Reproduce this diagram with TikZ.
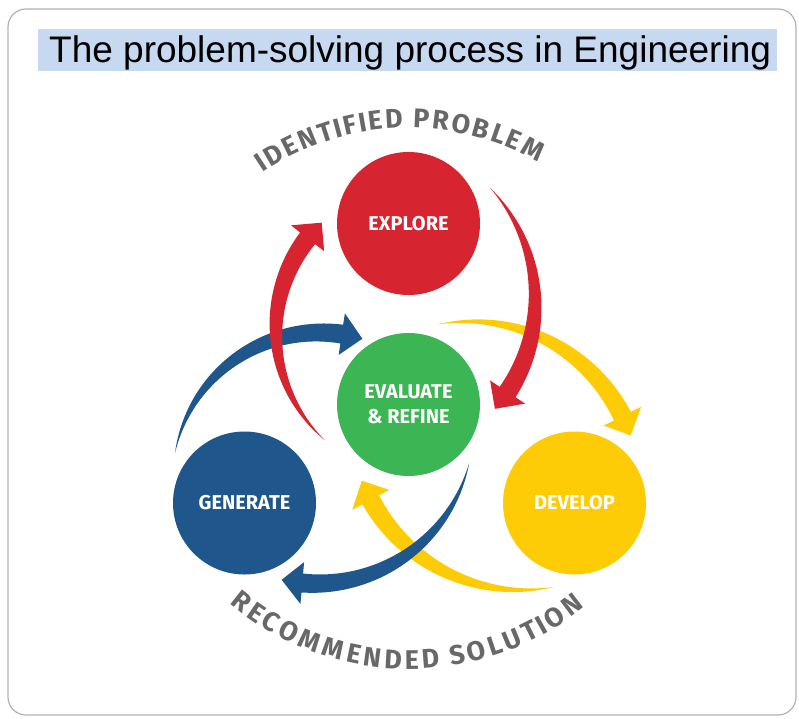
\documentclass[tikz,border=0pt]{standalone}
\usepackage{fontspec}
\setmainfont{Liberation Sans}
\newfontfamily\labfont{Fira Sans}
\usetikzlibrary{decorations.text}

\definecolor{redA}{RGB}{214,37,49}
\definecolor{greenA}{RGB}{60,182,84}
\definecolor{blueA}{RGB}{31,86,139}
\definecolor{yellowA}{RGB}{254,204,6}
\definecolor{arcgray}{RGB}{104,104,104}
\definecolor{titlefill}{RGB}{198,217,240}
\definecolor{framegray}{RGB}{178,178,178}

\newcommand\labelfont{\labfont\bfseries\fontsize{20}{25}\selectfont}
\newcommand\ringfont{\labfont\bfseries\fontsize{27}{30}\selectfont}

% tapered curved arrow running along a circle:
% centre x, centre y, radius, tail angle, angle of the head base, tip angle, colour
\newcommand\swoosh[7]{%
  \fill[#7] plot[domain=0:1, samples=50, variable=\q]
      ({#1+(#3+4.75*(\q+sin(90*\q)))*cos((#4)+\q*((#5)-(#4)))},
       {#2+(#3+4.75*(\q+sin(90*\q)))*sin((#4)+\q*((#5)-(#4)))})
    -- ({#1+(#3+21)*cos(#5)},{#2+(#3+21)*sin(#5)})
    -- ({#1+#3*cos(#6)},{#2+#3*sin(#6)})
    -- ({#1+(#3-21)*cos(#5)},{#2+(#3-21)*sin(#5)})
    -- plot[domain=1:0, samples=50, variable=\q]
      ({#1+(#3-4.75*(\q+sin(90*\q)))*cos((#4)+\q*((#5)-(#4)))},
       {#2+(#3-4.75*(\q+sin(90*\q)))*sin((#4)+\q*((#5)-(#4)))})
    -- cycle;}

\tikzset{
  stage/.style={circle, inner sep=0pt, minimum size=143pt, text=white,
    font=\labelfont, align=center},
  ringtext/.style={decorate, decoration={text effects along path,
    text={#1}, text effects/.cd, text along path, fit text to path,
    characters={text=arcgray, font=\ringfont}}},
}

\begin{document}
\begin{tikzpicture}[x=1pt, y=-1pt]
\useasboundingbox (0,0) rectangle (799,718);

% frame
\draw[framegray, line width=1.2pt, rounded corners=18pt] (8,9) rectangle (796,715);

% title
\fill[titlefill] (38,29) rectangle (777,71);
\node[anchor=base west, inner sep=0pt, font=\fontsize{37}{40}\selectfont]
  (title) at (49,62) {The problem-solving process in Engineering};

% curved arrows (yellow below blue, red on top)
\swoosh{469}{493}{171.6}{259.3}{333.4}{340.4}{yellowA}
\swoosh{522}{418}{172}{79.2}{151.6}{158.6}{yellowA}
\swoosh{320}{480}{147.5}{190.5}{278.5}{286.7}{blueA}
\swoosh{316}{426}{157.6}{13.5}{95}{102.6}{blueA}
\swoosh{425}{330}{149}{132.3}{218}{226.1}{redA}
\swoosh{370}{301}{165}{-43.3}{33.5}{40.8}{redA}

% stages
\node[stage, fill=redA]    (explore)  at (408.5,223.5) {EXPLORE};
\node[stage, fill=greenA]  (evaluate) at (408.5,404.5) {EVALUATE\\\& REFINE};
\node[stage, fill=blueA]   (generate) at (244.5,503)   {GENERATE};
\node[stage, fill=yellowA] (develop)  at (574.5,503)   {DEVELOP};

% ring captions
\coordinate (hub) at (409,390);
\path[ringtext={IDENTIFIED PROBLEM}]
  ([shift={(236:262)}]hub) arc[start angle=236, end angle=299.5, radius=262];
\path[ringtext={RECOMMENDED SOLUTION}]
  ([shift={(130:279)}]hub) arc[start angle=130, end angle=51, radius=279];
\end{tikzpicture}
\end{document}
